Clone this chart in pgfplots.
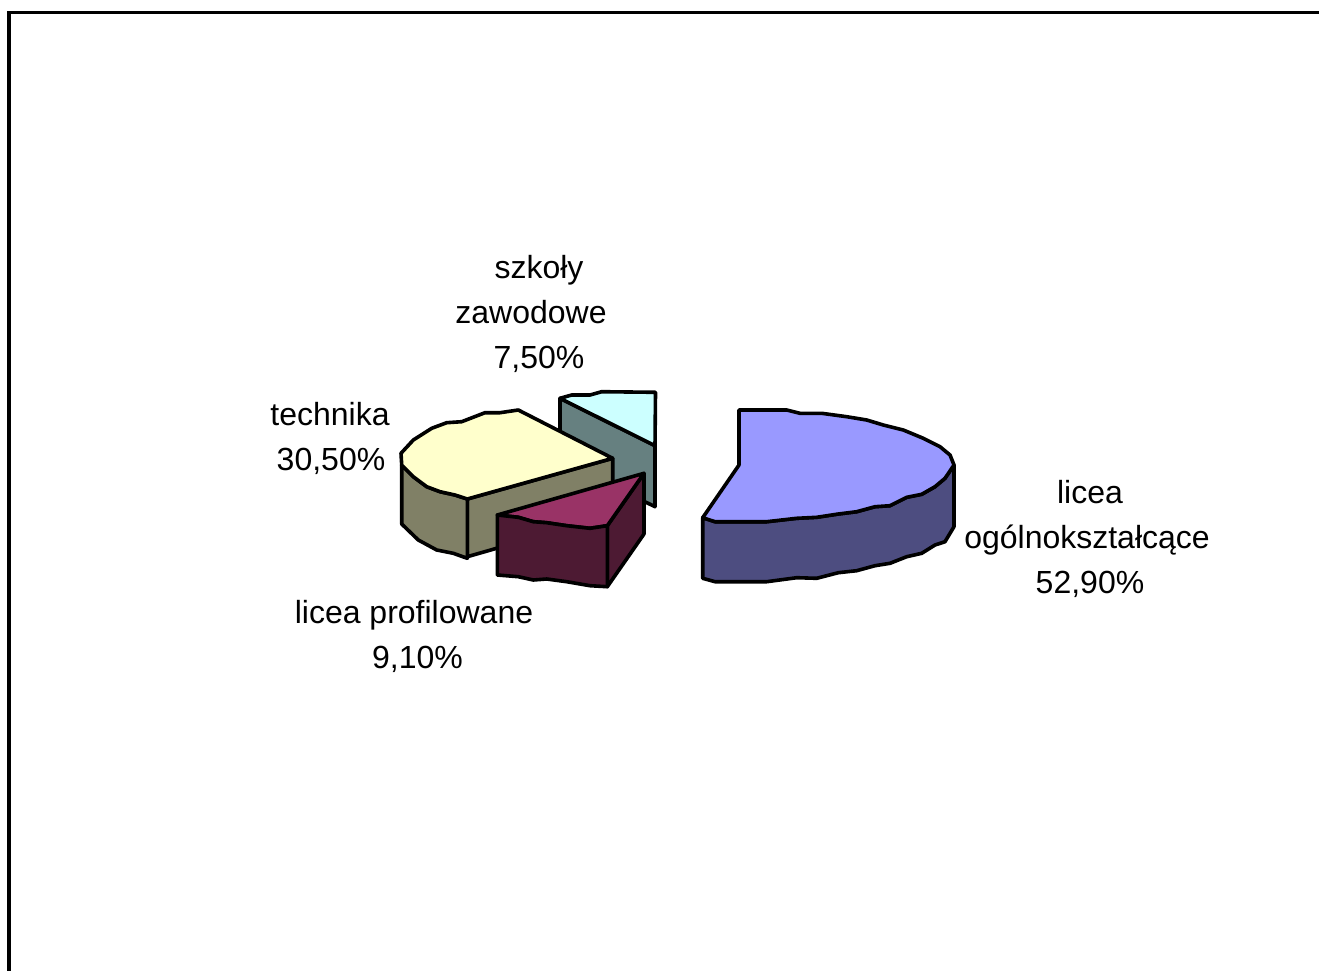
\documentclass[border=0pt]{standalone}
\usepackage{fontspec}
\setmainfont{Liberation Sans}
\usepackage{pgfplots}
\pgfplotsset{compat=1.18}
\definecolor{ogtop}{HTML}{9999FF}
\definecolor{ogside}{HTML}{4D4D80}
\definecolor{tetop}{HTML}{FFFFCC}
\definecolor{teside}{HTML}{808066}
\definecolor{sztop}{HTML}{CCFFFF}
\definecolor{szside}{HTML}{668080}
\definecolor{prtop}{HTML}{993366}
\definecolor{prside}{HTML}{4D1A33}
\tikzset{
  slice/.style={draw=black,line width=3.6pt,line join=round,fill=#1},
  lab/.style={anchor=base,inner sep=0pt,font=\fontsize{32}{38}\selectfont},
}
\begin{document}
\begin{tikzpicture}
\path[use as bounding box] (0,0) rectangle (1319pt,971pt);
\begin{axis}[
  at={(0,0)},anchor=south west,
  scale only axis,width=1319pt,height=971pt,
  xmin=0,xmax=1319,ymin=0,ymax=971,y dir=reverse,
  hide axis,
]
% outer frame, runs off the right and bottom edge
\addplot[draw=black,line width=3.5pt,line join=miter] coordinates {(9,975) (9,12.5) (1325,12.5)};

% szkoly zawodowe 7,50%
\addplot[slice=szside] coordinates {(560,398.3) (655,445.7) (655,506.7) (560,460)} -- cycle;
\addplot[slice=sztop] coordinates {(560,398.3) (571.7,395) (590,395) (601.7,391.7) (655.5,392.3) (655,445.7)} -- cycle;

% technika 30,50%
\addplot[slice=teside] coordinates {(467.3,499) (612.7,458.3) (612.7,515) (467.3,556.7)} -- cycle;
\addplot[slice=teside] coordinates {(401.7,465) (413.3,476.7) (426.7,486.7) (440,491.7) (455,495) (467.3,499)
  (467.3,558.3) (453.3,553.3) (436.7,550) (418.3,540) (401.7,524)} -- cycle;
\addplot[slice=tetop] coordinates {(401,453.3) (413.3,440) (431.7,428.3) (446.7,422.7) (461.7,421.7) (485,412.7)
  (500,412.7) (518.3,410) (612.7,458.3) (467.3,499) (455,495) (440,491.7) (426.7,486.7) (413.3,476.7) (401.7,465)} -- cycle;

% licea profilowane 9,10%
\addplot[slice=prside] coordinates {(607.3,525.7) (644,473.3) (644,534) (607.3,586.7)} -- cycle;
\addplot[slice=prtop] coordinates {(497.3,515) (644,473.3) (607.3,525.7) (590,528.3) (566.7,525.7)
  (546.7,522.7) (533.3,521.7) (518.3,517.3)} -- cycle;
\addplot[slice=prside] coordinates {(497.3,515) (518.3,517.3) (533.3,521.7) (546.7,522.7) (566.7,525.7) (590,528.3) (607.3,525.7)
  (607.3,586.7) (590,585.7) (566.7,581.7) (546.7,579) (533.3,580) (518.3,576.7) (497.3,575)} -- cycle;

% licea ogolnoksztalcace 52,90%
\addplot[slice=ogside] coordinates {(954,465) (945,478.3) (935,486.7) (921.7,494.3) (906.7,497.3) (890,505.7) (875,506.7)
  (856.7,511.7) (838.3,514) (816.7,517.3) (796.7,518.3) (766.7,521.7) (715,521.7) (702.7,517.7)
  (702.7,578.3) (715,581.7) (766.7,581.7) (796.7,577.7) (816.7,578.3) (838.3,572.7) (856.7,570.7) (875,565.7)
  (890,563.3) (906.7,556.7) (921.7,553.3) (935,545) (945,541.7) (954,526.7)} -- cycle;
\addplot[slice=ogtop] coordinates {(739,410) (786.7,410) (800,413.3) (821.7,413.3) (846.7,416.7) (866.7,420) (883.3,425)
  (903.3,430) (923.3,438.3) (940,446.7) (950,455) (954,465) (945,478.3) (935,486.7) (921.7,494.3) (906.7,497.3)
  (890,505.7) (875,506.7) (856.7,511.7) (838.3,514) (816.7,517.3) (796.7,518.3) (766.7,521.7) (715,521.7)
  (702.7,517.7) (739,465)} -- cycle;

\node[lab] at (axis cs:539,278) {szkoły};
\node[lab] at (axis cs:531,323) {zawodowe};
\node[lab] at (axis cs:539,368) {7,50\%};
\node[lab] at (axis cs:330,425) {technika};
\node[lab] at (axis cs:331,470) {30,50\%};
\node[lab] at (axis cs:1090,503) {licea};
\node[lab] at (axis cs:1087,548) {ogólnokształcące};
\node[lab] at (axis cs:1090,593) {52,90\%};
\node[lab] at (axis cs:414,623) {licea profilowane};
\node[lab] at (axis cs:417.5,668) {9,10\%};
\end{axis}
\end{tikzpicture}
\end{document}
